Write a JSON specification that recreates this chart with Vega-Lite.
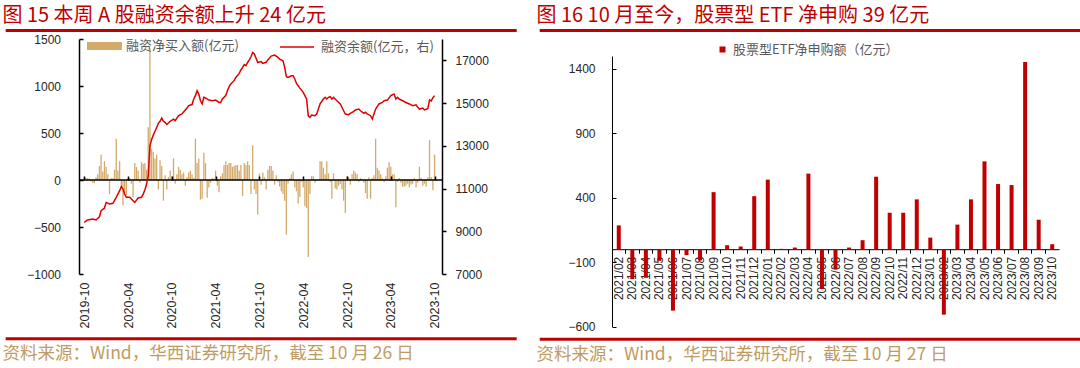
{
  "$schema": "https://vega.github.io/schema/vega-lite/v6.json",
  "background": "white",
  "padding": {"left": 2, "top": 6, "right": 0, "bottom": 0},
  "config": {
    "view": {"stroke": null},
    "axis": {"labelFont": "Liberation Sans", "labelFontSize": 12, "labelColor": "#262626", "domainColor": "#000000", "tickColor": "#000000", "grid": false},
    "legend": {"labelFont": "Noto Sans CJK SC", "labelFontSize": 13, "labelColor": "#595959", "labelLimit": 400},
    "title": {"font": "Noto Sans CJK SC", "fontWeight": "normal"}
  },
  "resolve": {"scale": {"fill": "independent", "stroke": "independent"}, "legend": {"fill": "independent", "stroke": "independent"}},
  "datasets": {
    "dummy": [{"a": 0}],
    "flow": [
      {"d":"2019-10-25","v":30},{"d":"2019-11-01","v":25},{"d":"2019-11-08","v":20},{"d":"2019-11-15","v":15},{"d":"2019-11-22","v":-15},{"d":"2019-11-29","v":-30},{"d":"2019-12-06","v":-35},{"d":"2019-12-13","v":30},{"d":"2019-12-20","v":60},{"d":"2019-12-27","v":150},
      {"d":"2020-01-03","v":270},{"d":"2020-01-10","v":90},{"d":"2020-01-17","v":200},{"d":"2020-01-24","v":140},{"d":"2020-01-31","v":60},{"d":"2020-02-07","v":-150},{"d":"2020-02-14","v":20},{"d":"2020-02-21","v":20},{"d":"2020-02-28","v":110},{"d":"2020-03-06","v":440},
      {"d":"2020-03-13","v":100},{"d":"2020-03-20","v":200},{"d":"2020-03-27","v":-60},{"d":"2020-04-03","v":-270},{"d":"2020-04-10","v":-130},{"d":"2020-04-17","v":-160},{"d":"2020-04-24","v":20},{"d":"2020-05-01","v":20},{"d":"2020-05-08","v":-40},{"d":"2020-05-15","v":-180},
      {"d":"2020-05-22","v":180},{"d":"2020-05-29","v":140},{"d":"2020-06-05","v":100},{"d":"2020-06-12","v":-30},{"d":"2020-06-19","v":190},{"d":"2020-06-26","v":170},{"d":"2020-07-03","v":180},{"d":"2020-07-10","v":110},{"d":"2020-07-17","v":560},{"d":"2020-07-24","v":1400},
      {"d":"2020-07-31","v":330},{"d":"2020-08-07","v":300},{"d":"2020-08-14","v":230},{"d":"2020-08-21","v":270},{"d":"2020-08-28","v":-100},{"d":"2020-09-04","v":210},{"d":"2020-09-11","v":150},{"d":"2020-09-18","v":-220},{"d":"2020-09-25","v":50},{"d":"2020-10-02","v":-100},
      {"d":"2020-10-09","v":30},{"d":"2020-10-16","v":100},{"d":"2020-10-23","v":40},{"d":"2020-10-30","v":230},{"d":"2020-11-06","v":-40},{"d":"2020-11-13","v":60},{"d":"2020-11-20","v":140},{"d":"2020-11-27","v":110},{"d":"2020-12-04","v":60},{"d":"2020-12-11","v":80},
      {"d":"2020-12-18","v":-60},{"d":"2020-12-25","v":30},{"d":"2021-01-01","v":80},{"d":"2021-01-08","v":100},{"d":"2021-01-15","v":60},{"d":"2021-01-22","v":20},{"d":"2021-01-29","v":440},{"d":"2021-02-05","v":180},{"d":"2021-02-12","v":230},{"d":"2021-02-19","v":-210},
      {"d":"2021-02-26","v":-200},{"d":"2021-03-05","v":290},{"d":"2021-03-12","v":180},{"d":"2021-03-19","v":-190},{"d":"2021-03-26","v":-80},{"d":"2021-04-02","v":-30},{"d":"2021-04-09","v":20},{"d":"2021-04-16","v":15},{"d":"2021-04-23","v":100},{"d":"2021-04-30","v":-60},
      {"d":"2021-05-07","v":-130},{"d":"2021-05-14","v":40},{"d":"2021-05-21","v":70},{"d":"2021-05-28","v":160},{"d":"2021-06-04","v":200},{"d":"2021-06-11","v":160},{"d":"2021-06-18","v":180},{"d":"2021-06-25","v":180},{"d":"2021-07-02","v":140},{"d":"2021-07-09","v":150},
      {"d":"2021-07-16","v":160},{"d":"2021-07-23","v":160},{"d":"2021-07-30","v":100},{"d":"2021-08-06","v":160},{"d":"2021-08-13","v":-170},{"d":"2021-08-20","v":180},{"d":"2021-08-27","v":160},{"d":"2021-09-03","v":200},{"d":"2021-09-10","v":160},{"d":"2021-09-17","v":-150},
      {"d":"2021-09-24","v":370},{"d":"2021-10-01","v":-100},{"d":"2021-10-08","v":-150},{"d":"2021-10-15","v":-370},{"d":"2021-10-22","v":70},{"d":"2021-10-29","v":-50},{"d":"2021-11-05","v":80},{"d":"2021-11-12","v":30},{"d":"2021-11-19","v":-100},{"d":"2021-11-26","v":110},
      {"d":"2021-12-03","v":150},{"d":"2021-12-10","v":150},{"d":"2021-12-17","v":100},{"d":"2021-12-24","v":-50},{"d":"2021-12-31","v":50},{"d":"2022-01-07","v":-20},{"d":"2022-01-14","v":-70},{"d":"2022-01-21","v":-120},{"d":"2022-01-28","v":-150},{"d":"2022-02-04","v":-220},
      {"d":"2022-02-11","v":-580},{"d":"2022-02-18","v":-40},{"d":"2022-02-25","v":20},{"d":"2022-03-04","v":60},{"d":"2022-03-11","v":90},{"d":"2022-03-18","v":-80},{"d":"2022-03-25","v":-120},{"d":"2022-04-01","v":-250},{"d":"2022-04-08","v":-180},{"d":"2022-04-15","v":-20},
      {"d":"2022-04-22","v":-80},{"d":"2022-04-29","v":-280},{"d":"2022-05-06","v":-300},{"d":"2022-05-13","v":-820},{"d":"2022-05-20","v":-150},{"d":"2022-05-27","v":40},{"d":"2022-06-03","v":40},{"d":"2022-06-10","v":-30},{"d":"2022-06-17","v":-10},{"d":"2022-06-24","v":5},
      {"d":"2022-07-01","v":200},{"d":"2022-07-08","v":200},{"d":"2022-07-15","v":130},{"d":"2022-07-22","v":60},{"d":"2022-07-29","v":200},{"d":"2022-08-05","v":70},{"d":"2022-08-12","v":-20},{"d":"2022-08-19","v":-200},{"d":"2022-08-26","v":70},{"d":"2022-09-02","v":-90},
      {"d":"2022-09-09","v":-100},{"d":"2022-09-16","v":-60},{"d":"2022-09-23","v":-40},{"d":"2022-09-30","v":-100},{"d":"2022-10-07","v":-220},{"d":"2022-10-14","v":-350},{"d":"2022-10-21","v":40},{"d":"2022-10-28","v":30},{"d":"2022-11-04","v":-50},{"d":"2022-11-11","v":60},
      {"d":"2022-11-18","v":100},{"d":"2022-11-25","v":80},{"d":"2022-12-02","v":60},{"d":"2022-12-09","v":-20},{"d":"2022-12-16","v":20},{"d":"2022-12-23","v":10},{"d":"2022-12-30","v":-30},{"d":"2023-01-06","v":-140},{"d":"2023-01-13","v":-200},{"d":"2023-01-20","v":30},
      {"d":"2023-01-27","v":-200},{"d":"2023-02-03","v":20},{"d":"2023-02-10","v":50},{"d":"2023-02-17","v":440},{"d":"2023-02-24","v":130},{"d":"2023-03-03","v":100},{"d":"2023-03-10","v":60},{"d":"2023-03-17","v":20},{"d":"2023-03-24","v":-20},{"d":"2023-03-31","v":40},
      {"d":"2023-04-07","v":130},{"d":"2023-04-14","v":190},{"d":"2023-04-21","v":140},{"d":"2023-04-28","v":60},{"d":"2023-05-05","v":60},{"d":"2023-05-12","v":-290},{"d":"2023-05-19","v":-20},{"d":"2023-05-26","v":20},{"d":"2023-06-02","v":-30},{"d":"2023-06-09","v":-70},
      {"d":"2023-06-16","v":-70},{"d":"2023-06-23","v":-60},{"d":"2023-06-30","v":-40},{"d":"2023-07-07","v":-80},{"d":"2023-07-14","v":-50},{"d":"2023-07-21","v":-40},{"d":"2023-07-28","v":20},{"d":"2023-08-04","v":-80},{"d":"2023-08-11","v":-30},{"d":"2023-08-18","v":140},
      {"d":"2023-08-25","v":20},{"d":"2023-09-01","v":-60},{"d":"2023-09-08","v":-40},{"d":"2023-09-15","v":-70},{"d":"2023-09-22","v":30},{"d":"2023-09-29","v":425},{"d":"2023-10-06","v":30},{"d":"2023-10-13","v":-110},{"d":"2023-10-20","v":270}
    ],
    "bal": [
      {"d":"2019-10-25","v":9420},{"d":"2019-11-08","v":9530},{"d":"2019-11-29","v":9570},{"d":"2019-12-13","v":9530},{"d":"2019-12-27","v":9680},{"d":"2020-01-03","v":9960},{"d":"2020-01-17","v":10090},{"d":"2020-01-24","v":10350},{"d":"2020-02-07","v":10280},{"d":"2020-02-21","v":10310},
      {"d":"2020-03-06","v":10590},{"d":"2020-03-20","v":10900},{"d":"2020-03-27","v":11090},{"d":"2020-04-03","v":10980},{"d":"2020-04-10","v":10740},{"d":"2020-04-17","v":10590},{"d":"2020-05-01","v":10590},{"d":"2020-05-15","v":10430},{"d":"2020-05-22","v":10350},{"d":"2020-05-29","v":10460},
      {"d":"2020-06-05","v":10560},{"d":"2020-06-19","v":10590},{"d":"2020-06-26","v":10740},{"d":"2020-07-03","v":10930},{"d":"2020-07-10","v":11210},{"d":"2020-07-17","v":11600},{"d":"2020-07-24","v":13000},{"d":"2020-07-31","v":13300},{"d":"2020-08-07","v":13500},{"d":"2020-08-14","v":13680},
      {"d":"2020-08-21","v":13860},{"d":"2020-08-28","v":14050},{"d":"2020-09-04","v":14150},{"d":"2020-09-11","v":14300},{"d":"2020-09-18","v":14150},{"d":"2020-09-25","v":14100},{"d":"2020-10-02","v":14000},{"d":"2020-10-16","v":14150},{"d":"2020-10-30","v":14250},{"d":"2020-11-06","v":14180},
      {"d":"2020-11-20","v":14410},{"d":"2020-12-04","v":14490},{"d":"2020-12-18","v":14680},{"d":"2020-12-25","v":14770},{"d":"2021-01-01","v":14880},{"d":"2021-01-15","v":14930},{"d":"2021-01-22","v":15190},{"d":"2021-01-29","v":15350},{"d":"2021-02-05","v":15580},{"d":"2021-02-12","v":15420},
      {"d":"2021-02-19","v":15110},{"d":"2021-02-26","v":14960},{"d":"2021-03-05","v":15270},{"d":"2021-03-12","v":15240},{"d":"2021-03-26","v":15140},{"d":"2021-04-09","v":15110},{"d":"2021-04-23","v":15140},{"d":"2021-05-07","v":15030},{"d":"2021-05-14","v":15030},{"d":"2021-05-21","v":15190},
      {"d":"2021-06-04","v":15350},{"d":"2021-06-11","v":15580},{"d":"2021-06-18","v":15770},{"d":"2021-06-25","v":15890},{"d":"2021-07-09","v":16050},{"d":"2021-07-16","v":16200},{"d":"2021-07-30","v":16390},{"d":"2021-08-06","v":16550},{"d":"2021-08-13","v":16670},{"d":"2021-08-20","v":16800},
      {"d":"2021-08-27","v":16750},{"d":"2021-09-03","v":16900},{"d":"2021-09-10","v":17020},{"d":"2021-09-17","v":17170},{"d":"2021-09-24","v":17370},{"d":"2021-10-01","v":17300},{"d":"2021-10-15","v":16900},{"d":"2021-10-29","v":16940},{"d":"2021-11-05","v":16860},{"d":"2021-11-19","v":16910},
      {"d":"2021-11-26","v":17020},{"d":"2021-12-10","v":17200},{"d":"2021-12-24","v":17250},{"d":"2022-01-07","v":17140},{"d":"2022-01-14","v":17060},{"d":"2022-01-28","v":16980},{"d":"2022-02-04","v":16670},{"d":"2022-02-11","v":16230},{"d":"2022-02-18","v":16200},{"d":"2022-03-04","v":16280},
      {"d":"2022-03-11","v":16280},{"d":"2022-03-18","v":16130},{"d":"2022-03-25","v":15920},{"d":"2022-04-01","v":15810},{"d":"2022-04-08","v":15700},{"d":"2022-04-22","v":15500},{"d":"2022-04-29","v":15350},{"d":"2022-05-06","v":15190},{"d":"2022-05-13","v":14400},{"d":"2022-05-20","v":14330},
      {"d":"2022-05-27","v":14440},{"d":"2022-06-10","v":14410},{"d":"2022-06-17","v":14490},{"d":"2022-06-24","v":14720},{"d":"2022-07-01","v":14960},{"d":"2022-07-15","v":15190},{"d":"2022-07-22","v":15270},{"d":"2022-07-29","v":15190},{"d":"2022-08-05","v":15270},{"d":"2022-08-12","v":15300},
      {"d":"2022-08-19","v":15190},{"d":"2022-08-26","v":15270},{"d":"2022-09-02","v":15190},{"d":"2022-09-09","v":15110},{"d":"2022-09-23","v":14960},{"d":"2022-10-07","v":14640},{"d":"2022-10-14","v":14490},{"d":"2022-10-28","v":14460},{"d":"2022-11-04","v":14520},{"d":"2022-11-18","v":14610},
      {"d":"2022-11-25","v":14680},{"d":"2022-12-09","v":14720},{"d":"2022-12-16","v":14640},{"d":"2022-12-30","v":14520},{"d":"2023-01-06","v":14570},{"d":"2023-01-13","v":14490},{"d":"2023-01-27","v":14410},{"d":"2023-02-03","v":14250},{"d":"2023-02-10","v":14490},{"d":"2023-02-17","v":14720},
      {"d":"2023-03-03","v":14960},{"d":"2023-03-17","v":15030},{"d":"2023-03-24","v":15110},{"d":"2023-04-07","v":15140},{"d":"2023-04-21","v":15350},{"d":"2023-04-28","v":15390},{"d":"2023-05-05","v":15420},{"d":"2023-05-12","v":15190},{"d":"2023-05-19","v":15270},{"d":"2023-05-26","v":15190},
      {"d":"2023-06-09","v":15110},{"d":"2023-06-23","v":15030},{"d":"2023-07-07","v":14960},{"d":"2023-07-21","v":14880},{"d":"2023-08-04","v":14920},{"d":"2023-08-11","v":14800},{"d":"2023-08-18","v":14720},{"d":"2023-09-01","v":14770},{"d":"2023-09-08","v":14680},{"d":"2023-09-15","v":14710},
      {"d":"2023-09-22","v":14750},{"d":"2023-09-29","v":15150},{"d":"2023-10-06","v":15100},{"d":"2023-10-13","v":15250},{"d":"2023-10-20","v":15350}
    ],
    "etf": [
      {"m":"2021/02","v":185},{"m":"2021/03","v":-232},{"m":"2021/04","v":-222},{"m":"2021/05","v":-90},{"m":"2021/06","v":-477},{"m":"2021/07","v":-46},{"m":"2021/08","v":-88},{"m":"2021/09","v":443},{"m":"2021/10","v":31},{"m":"2021/11","v":21},{"m":"2021/12","v":412},
      {"m":"2022/01","v":540},{"m":"2022/02","v":3},{"m":"2022/03","v":13},{"m":"2022/04","v":587},{"m":"2022/05","v":-309},{"m":"2022/06","v":-155},{"m":"2022/07","v":13},{"m":"2022/08","v":70},{"m":"2022/09","v":563},{"m":"2022/10","v":283},{"m":"2022/11","v":283},{"m":"2022/12","v":387},
      {"m":"2023/01","v":90},{"m":"2023/02","v":-508},{"m":"2023/03","v":191},{"m":"2023/04","v":387},{"m":"2023/05","v":682},{"m":"2023/06","v":506},{"m":"2023/07","v":498},{"m":"2023/08","v":1454},{"m":"2023/09","v":229},{"m":"2023/10","v":39}
    ]
  },
  "spacing": -54,
  "hconcat": [
    {
      "spacing": 0,
      "bounds": "flush",
      "resolve": {"scale": {"fill": "independent", "stroke": "independent"}, "legend": {"fill": "independent", "stroke": "independent"}},
      "vconcat": [
        {
          "width": 363, "height": 8.5,
          "data": {"name": "dummy"},
          "mark": {"type": "point", "opacity": 0},
          "encoding": {"x": {"datum": 0, "type": "quantitative", "scale": {"domain": [0, 1], "range": [-73.8, 437.2]}, "axis": {"orient": "top", "domainColor": "#C00000", "domainWidth": 3, "ticks": false, "labels": false, "title": null}}},
          "title": {"text": "图 15 本周 A 股融资余额上升 24 亿元", "anchor": "start", "frame": "bounds", "color": "#C00000", "fontSize": 20, "offset": 4}
        },
        {
          "width": 363, "height": 235,
          "layer": [
            {
              "layer": [
                {
                  "data": {"name": "flow"},
                  "mark": {"type": "bar", "width": 1.3},
                  "encoding": {
                    "x": {"field": "d", "type": "temporal",
                      "scale": {"domain": [{"year": 2019, "month": 10, "date": 24}, {"year": 2023, "month": 10, "date": 30}]},
                      "axis": {"orient": "bottom", "values": [{"year": 2019, "month": 10, "date": 25}, {"year": 2020, "month": 4, "date": 24}, {"year": 2020, "month": 10, "date": 23}, {"year": 2021, "month": 4, "date": 23}, {"year": 2021, "month": 10, "date": 22}, {"year": 2022, "month": 4, "date": 22}, {"year": 2022, "month": 10, "date": 21}, {"year": 2023, "month": 4, "date": 21}, {"year": 2023, "month": 10, "date": 20}],
                        "format": "%Y-%m", "labelAngle": -90, "labelPadding": 8, "labelFontSize": 12.5, "domain": false, "ticks": false, "title": null}},
                    "y": {"field": "v", "type": "quantitative", "scale": {"domain": [-1000, 1500], "nice": false, "zero": false},
                      "axis": {"orient": "left", "values": [-1000, -500, 0, 500, 1000, 1500], "format": "d", "domainWidth": 1.5, "tickSize": -4, "tickWidth": 1.5, "labelPadding": 22.5, "title": null}},
                    "fill": {"datum": "融资净买入额(亿元)", "scale": {"range": ["#D4AA6A"]},
                      "legend": {"orient": "none", "legendX": 8, "legendY": -10.5, "title": null, "symbolType": "M-1,-0.23H1V0.23H-1Z", "symbolSize": 1225, "symbolStrokeWidth": 0, "labelOffset": 4, "padding": 0}}
                  }
                },
                {
                  "data": {"name": "dummy"},
                  "mark": {"type": "rule", "color": "#000000", "strokeWidth": 1.5},
                  "encoding": {"y": {"datum": 0, "type": "quantitative"}}
                }
              ]
            },
            {
              "data": {"name": "bal"},
              "mark": {"type": "line", "strokeWidth": 1.5},
              "encoding": {
                "x": {"field": "d", "type": "temporal",
                  "axis": {"orient": "top", "offset": -141, "values": [{"year": 2019, "month": 10, "date": 25}, {"year": 2020, "month": 4, "date": 24}, {"year": 2020, "month": 10, "date": 23}, {"year": 2021, "month": 4, "date": 23}, {"year": 2021, "month": 10, "date": 22}, {"year": 2022, "month": 4, "date": 22}, {"year": 2022, "month": 10, "date": 21}, {"year": 2023, "month": 4, "date": 21}, {"year": 2023, "month": 10, "date": 20}],
                    "labels": false, "domain": false, "tickSize": 4, "tickWidth": 1.5, "zindex": 1, "title": null}},
                "y": {"field": "v", "type": "quantitative", "scale": {"domain": [7000, 18000], "nice": false, "zero": false},
                  "axis": {"orient": "right", "values": [7000, 9000, 11000, 13000, 15000, 17000], "format": "d", "domainWidth": 1.5, "tickSize": 4, "tickWidth": 1.5, "labelPadding": 9, "title": null}},
                "stroke": {"datum": "融资余额(亿元，右)", "scale": {"range": ["#E00000"]},
                  "legend": {"orient": "none", "legendX": 200, "legendY": -10, "title": null, "symbolType": "stroke", "symbolSize": 1156, "symbolStrokeWidth": 1.5, "labelOffset": 6, "padding": 0}}
              }
            }
          ],
          "resolve": {"scale": {"y": "independent"}, "axis": {"x": "independent", "y": "independent"}}
        },
        {
          "width": 363, "height": 64.3,
          "data": {"name": "dummy"},
          "mark": {"type": "point", "opacity": 0},
          "encoding": {"x": {"datum": 0, "type": "quantitative", "scale": {"domain": [0, 1], "range": [-73.8, 437.2]}, "axis": {"orient": "bottom", "domainColor": "#C00000", "domainWidth": 3, "ticks": false, "labels": false, "title": null}}},
          "title": {"text": "资料来源：Wind，华西证券研究所，截至 10 月 26 日", "orient": "bottom", "anchor": "start", "frame": "bounds", "color": "#BF9B62", "fontSize": 17.5, "offset": 7}
        }
      ]
    },
    {
      "spacing": 0,
      "bounds": "flush",
      "resolve": {"scale": {"fill": "independent"}, "legend": {"fill": "independent"}},
      "vconcat": [
        {
          "width": 447, "height": 25.5,
          "data": {"name": "dummy"},
          "mark": {"type": "point", "opacity": 0},
          "encoding": {"x": {"datum": 0, "type": "quantitative", "scale": {"domain": [0, 1], "range": [-72.8, 472.2]}, "axis": {"orient": "top", "domainColor": "#C00000", "domainWidth": 3, "ticks": false, "labels": false, "title": null}}},
          "title": {"text": "图 16 10 月至今，股票型 ETF 净申购 39 亿元", "anchor": "start", "frame": "bounds", "color": "#C00000", "fontSize": 20, "offset": 4}
        },
        {
          "width": 447, "height": 270.5,
          "data": {"name": "etf"},
          "mark": {"type": "bar", "width": 4},
          "encoding": {
            "x": {"field": "m", "type": "ordinal", "sort": null, "scale": {"paddingInner": 0, "paddingOuter": 0},
              "axis": {"orient": "bottom", "offset": -77.3, "labelAngle": -90, "labelPadding": 3, "tickSize": 4, "bandPosition": 0, "domainWidth": 1, "labelFontSize": 12, "title": null}},
            "y": {"field": "v", "type": "quantitative", "scale": {"domain": [-600, 1500], "nice": false, "zero": false},
              "axis": {"values": [-600, -100, 400, 900, 1400], "format": "d", "tickSize": -4, "labelPadding": 21, "title": null}},
            "fill": {"datum": "股票型ETF净申购额（亿元）", "scale": {"range": ["#C00000"]},
              "legend": {"orient": "none", "legendX": 104, "legendY": -13, "title": null, "symbolType": "square", "symbolSize": 36, "labelOffset": 4, "padding": 0}}
          }
        },
        {
          "width": 447, "height": 11.8,
          "data": {"name": "dummy"},
          "mark": {"type": "point", "opacity": 0},
          "encoding": {"x": {"datum": 0, "type": "quantitative", "scale": {"domain": [0, 1], "range": [-72.8, 472.2]}, "axis": {"orient": "bottom", "domainColor": "#C00000", "domainWidth": 3, "ticks": false, "labels": false, "title": null}}},
          "title": {"text": "资料来源：Wind，华西证券研究所，截至 10 月 27 日", "orient": "bottom", "anchor": "start", "frame": "bounds", "color": "#BF9B62", "fontSize": 17.5, "offset": 7}
        }
      ]
    }
  ]
}
